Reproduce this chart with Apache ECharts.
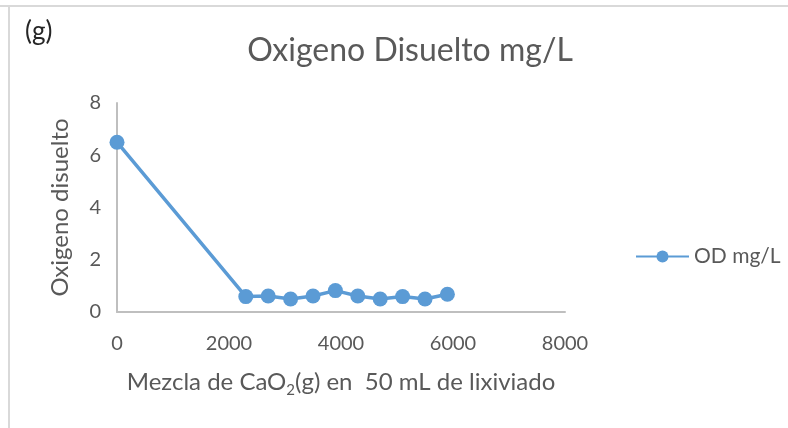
<!DOCTYPE html>
<html>
<head>
<meta charset="utf-8">
<script src="https://cdn.jsdelivr.net/npm/echarts@6/dist/echarts.min.js"></script>
<style>
html,body{margin:0;padding:0;background:#fff;}
#c{width:788px;height:428px;}
</style>
</head>
<body>
<div id="c"></div>
<script>
const xValues = [0, 2300, 2700, 3100, 3500, 3900, 4300, 4700, 5100, 5500, 5900];
const odValues = [6.5, 0.59, 0.61, 0.5, 0.61, 0.82, 0.61, 0.5, 0.59, 0.5, 0.68];
const seriesName = 'OD mg/L';
const titleText = 'Oxigeno Disuelto mg/L';
const yName = 'Oxigeno disuelto';
const panelLabel = '(g)';

const FONT = 'Lato';
const TXT = '#595959';
const chart = echarts.init(document.getElementById('c'), null, {renderer: 'canvas'});
chart.setOption({
  backgroundColor: '#fff',
  animation: false,
  title: {
    text: titleText,
    left: 405, top: 30, textAlign: 'center',
    textStyle: {fontFamily: FONT, fontSize: 32, fontWeight: 'normal', color: TXT}
  },
  legend: {
    data: [seriesName],
    left: 630, top: 241,
    itemWidth: 53, itemHeight: 15, itemGap: 5,
    textStyle: {fontFamily: FONT, fontSize: 21, color: TXT}
  },
  grid: {left: 117, top: 103, right: 223, bottom: 116},
  xAxis: {
    type: 'value', min: 0, max: 8000, interval: 2000,
    axisLine: {show: true, lineStyle: {color: '#bfbfbf', width: 2}},
    axisTick: {show: false},
    splitLine: {show: false},
    axisLabel: {fontFamily: FONT, fontSize: 20, color: TXT, margin: 22, formatter: v => String(v)},
    name: '{n|Mezcla de CaO}{s|2}{n|(g) en  50 mL de lixiviado}',
    nameLocation: 'middle', nameGap: 54,
    nameTextStyle: {
      rich: {
        n: {fontFamily: FONT, fontSize: 24, color: TXT, lineHeight: 32, verticalAlign: 'middle'},
        s: {fontFamily: FONT, fontSize: 15, color: TXT, lineHeight: 32, verticalAlign: 'bottom'}
      }
    }
  },
  yAxis: {
    type: 'value', min: 0, max: 8, interval: 2,
    axisLine: {show: true, lineStyle: {color: '#bfbfbf', width: 2}},
    axisTick: {show: false},
    splitLine: {show: false},
    axisLabel: {fontFamily: FONT, fontSize: 20, color: TXT, margin: 16},
    name: yName, nameLocation: 'middle', nameGap: 45, nameRotate: 90,
    nameTextStyle: {fontFamily: FONT, fontSize: 24, color: TXT}
  },
  graphic: [
    {type: 'line', shape: {x1: 0, y1: 6, x2: 788, y2: 6}, style: {stroke: '#d9d9d9', lineWidth: 2}, silent: true},
    {type: 'line', shape: {x1: 9, y1: 6, x2: 9, y2: 428}, style: {stroke: '#d9d9d9', lineWidth: 2}, silent: true},
    {type: 'text', left: 25, top: 19, style: {text: panelLabel, fontSize: 26, fontFamily: FONT, fill: '#262626'}}
  ],
  series: [{
    name: seriesName,
    type: 'line',
    data: xValues.map((x, i) => [x, odValues[i]]),
    symbol: 'circle', symbolSize: 15,
    lineStyle: {color: '#5b9bd5', width: 3.5},
    itemStyle: {color: '#5b9bd5'}
  }]
});
</script>
</body>
</html>
